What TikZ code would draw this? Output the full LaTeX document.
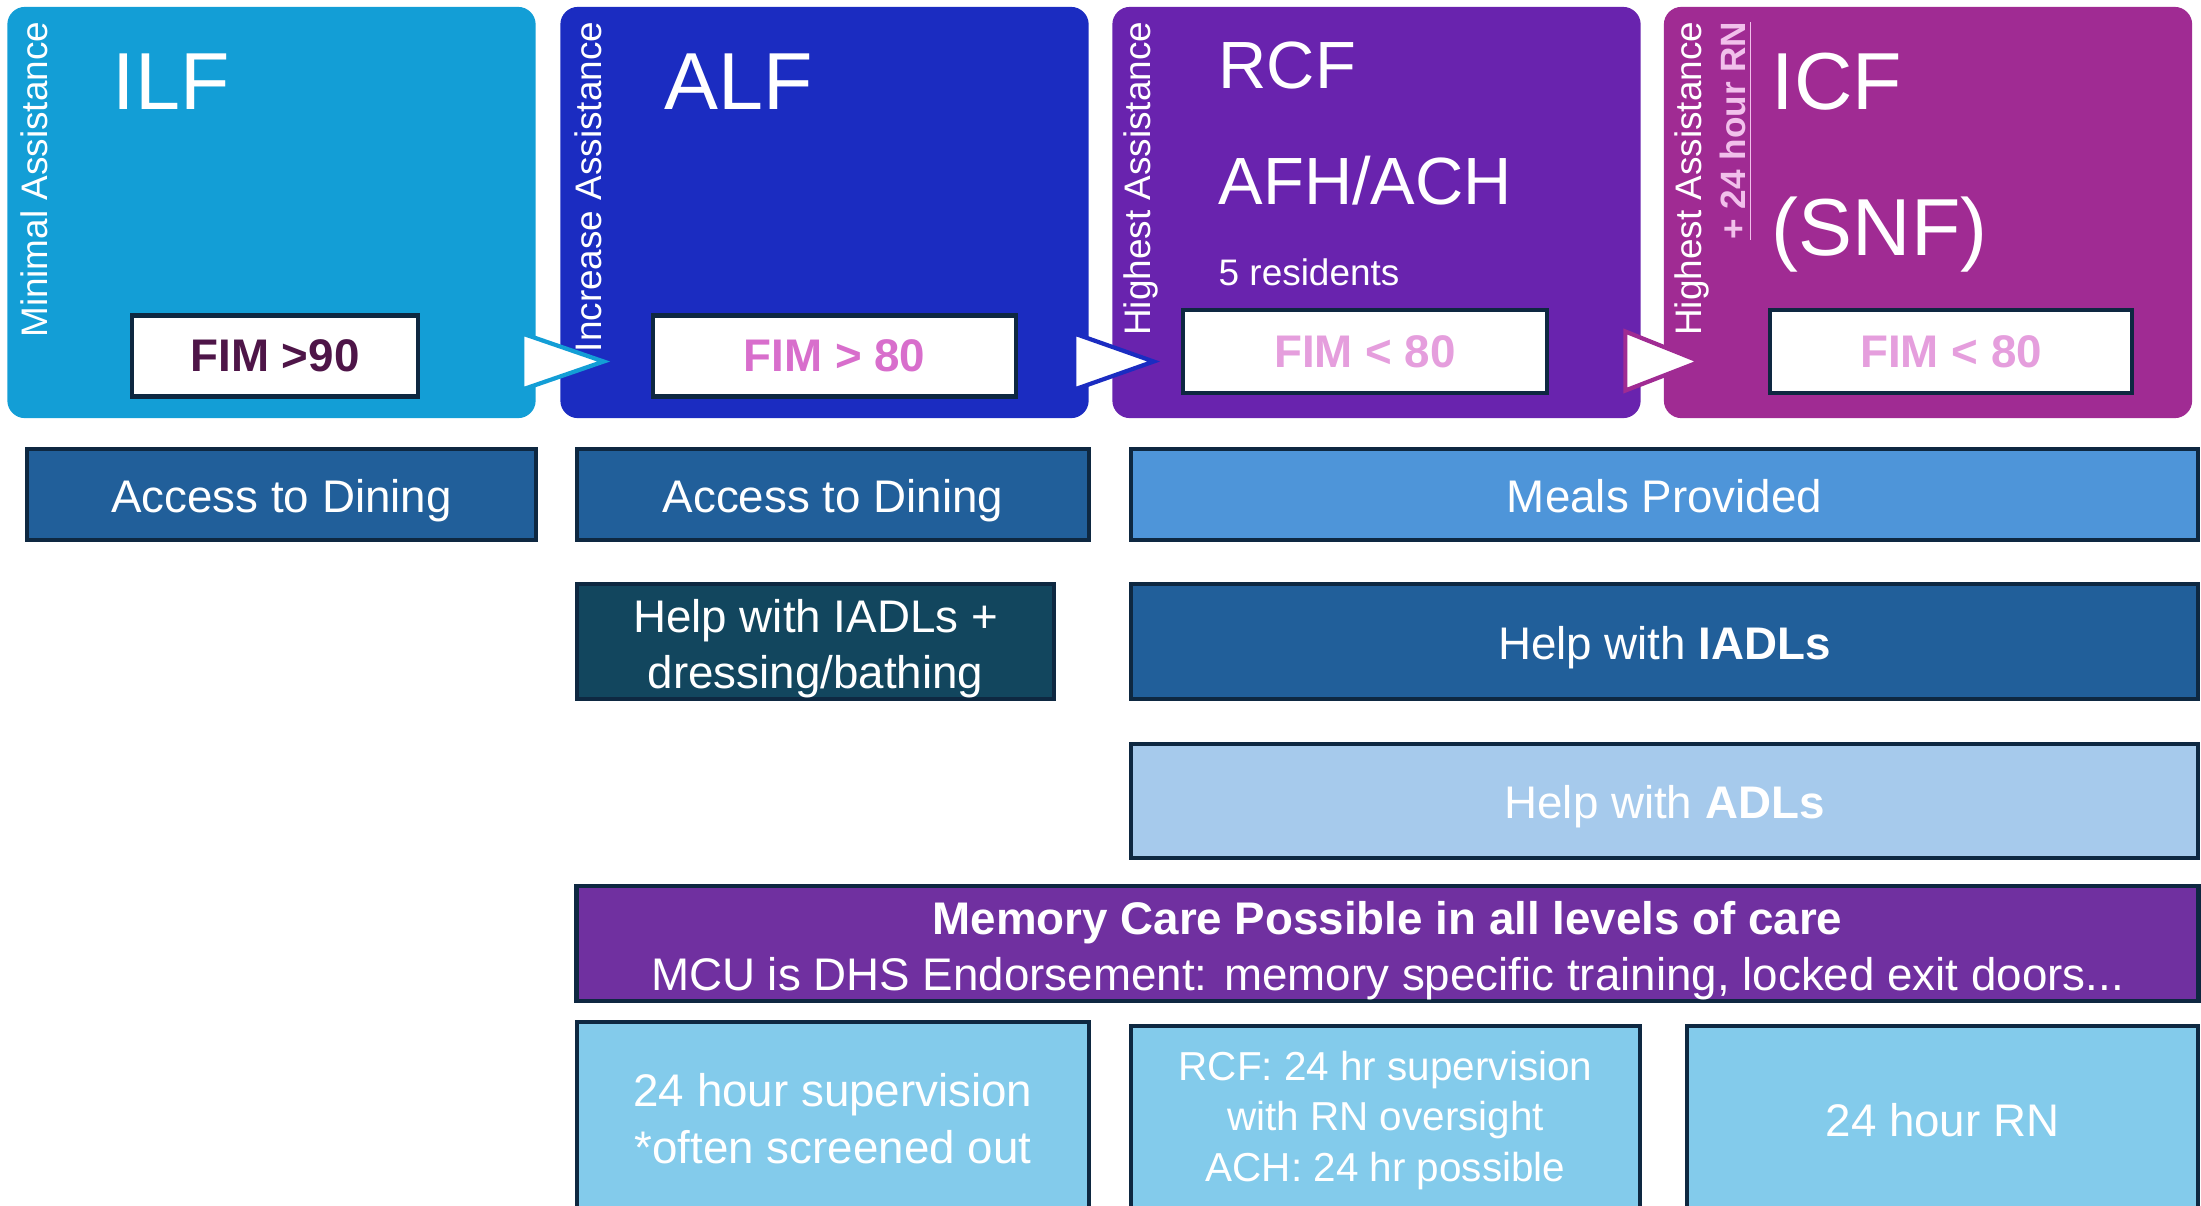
\documentclass[tikz,border=0pt]{standalone}
\usepackage{fontspec}
\setmainfont{Liberation Sans}
\usepackage{tikz}
\usetikzlibrary{calc}
\definecolor{ilfcol}{HTML}{139ED6}
\definecolor{alfcol}{HTML}{1B2CC1}
\definecolor{rcfcol}{HTML}{6923AE}
\definecolor{icfcol}{HTML}{A02B93}
\definecolor{edgenavy}{HTML}{0E2841}
\definecolor{fimdark}{HTML}{4E1548}
\definecolor{fimpink}{HTML}{D86ECC}
\definecolor{fimlight}{HTML}{E59EDD}
\definecolor{rnpink}{HTML}{F1C0EB}
\definecolor{diningcol}{HTML}{215F9A}
\definecolor{mealscol}{HTML}{4E95D9}
\definecolor{iadlteal}{HTML}{12465E}
\definecolor{adlcol}{HTML}{A6CAEC}
\definecolor{memorycol}{HTML}{7030A0}
\definecolor{skycol}{HTML}{83CBEB}
\newcommand{\topstrut}{\rule{0pt}{13.5pt}}

\begin{document}
\begin{tikzpicture}[x=0.01cm,y=-0.01cm,
	stage/.style={fill=#1,rounded corners=5pt,minimum width=5.28cm,minimum height=4.11cm,inner sep=0},
	sidelabel/.style={rotate=90,anchor=east,inner sep=0,text=white,font=\fontsize{10.5}{12}\selectfont},
	stagename/.style={anchor=base west,inner sep=0,text=white,font=\fontsize{23}{27}\selectfont},
	fim/.style={draw=edgenavy,line width=1.3pt,fill=white,minimum height=0.81cm,inner sep=0,font=\fontsize{13}{15}\selectfont\bfseries},
	chev/.style={draw=#1,line width=1.2pt,fill=white,line join=miter},
	rowbox/.style={fill=#1,draw=edgenavy,line width=1.2pt,text=white,align=center,inner sep=0,font=\fontsize{13}{16}\selectfont},
	stripbox/.style={rowbox=#1,execute at begin node={\rule[-3pt]{0pt}{16pt}}}]
	\useasboundingbox (0,0) rectangle (2201,1205);
	\clip (0,0) rectangle (2201,1205);
	
	\node[stage=ilfcol] (ilf) at (271.5,212.5) {};		%ILF
	\node[stage=alfcol] (alf) at (824.5,212.5) {};		%ALF
	\node[stage=rcfcol] (rcf) at (1376.5,212.5) {};	%RCF
	\node[stage=icfcol] (icf) at (1928,212.5) {};		%ICF
	
	\draw[chev=ilfcol] ($(ilf.east)+(-14,121)$) -- ($(alf.west)+(44,149)$) -- ($(ilf.east)+(-14,177)$) -- cycle;
	\draw[chev=alfcol] ($(alf.east)+(-15,121)$) -- ($(rcf.west)+(42,149)$) -- ($(alf.east)+(-15,177)$) -- cycle;
	\draw[chev=icfcol] ($(rcf.east)+(-16,119)$) -- ($(icf.west)+(37,149)$) -- ($(rcf.east)+(-16,178)$) -- cycle;
	
	\node[sidelabel] (minimal) at (34,21) {Minimal Assistance};
	\node[sidelabel] (increase) at (588,21) {Increase Assistance};
	\node[sidelabel] (highrcf) at (1141,21) {Highest Assistance};
	\node[sidelabel] (highicf) at (1692,21) {Highest Assistance};
	\node[sidelabel,text=rnpink,font=\fontsize{10}{12}\selectfont\bfseries] (rnicf) at (1736,21) {\underline{+ 24 hour RN}};
	
	\node[stagename] (ilfname) at (112,109) {ILF};
	\node[stagename] (alfname) at (664,109) {ALF};
	\node[stagename,font=\fontsize{19}{23}\selectfont] (rcfname) at (1218,88) {RCF};
	\node[stagename,font=\fontsize{19}{23}\selectfont] (afhname) at (1218,204) {AFH/ACH};
	\node[stagename,font=\fontsize{10.5}{12}\selectfont] (residents) at (1218,285) {5 residents};
	\node[stagename] (icfname) at (1771,109) {ICF};
	\node[stagename] (snfname) at (1771,255) {(SNF)};
	
	\node[fim,minimum width=2.86cm,text=fimdark] (fimilf) at (275,356) {FIM >90};
	\node[fim,minimum width=3.63cm,text=fimpink] (fimalf) at (834.5,356) {FIM > 80};
	\node[fim,minimum width=3.64cm,text=fimlight,minimum height=0.83cm] (fimrcf) at (1365,351.5) {FIM < 80};
	\node[fim,minimum width=3.62cm,text=fimlight,minimum height=0.83cm] (fimicf) at (1951,351.5) {FIM < 80};
	
	\node[stripbox=diningcol,minimum width=5.09cm,minimum height=0.91cm] (dineilf) at (281.5,494.5) {Access to Dining};
	\node[stripbox=diningcol,minimum width=5.12cm,minimum height=0.91cm] (dinealf) at (833,494.5) {Access to Dining};
	\node[stripbox=mealscol,minimum width=10.67cm,minimum height=0.91cm] (meals) at (1664.5,494.5) {Meals Provided};
	
	\node[rowbox=iadlteal,minimum width=4.77cm,minimum height=1.15cm] (iadlalf) at (815.5,641.5) {\topstrut Help with IADLs +\\dressing/bathing};
	\node[stripbox=diningcol,minimum width=10.67cm,minimum height=1.15cm] (iadl) at (1664.5,641.5) {Help with \textbf{IADLs}};
	\node[stripbox=adlcol,minimum width=10.67cm,minimum height=1.14cm] (adl) at (1664.5,801) {Help with \textbf{ADLs}};
	
	\node[rowbox=memorycol,minimum width=16.21cm,minimum height=1.15cm] (memory) at (1387.5,943.5) {\topstrut\textbf{Memory Care Possible in all levels of care}\\MCU is DHS Endorsement: memory specific training, locked exit doors...};
	
	\node[rowbox=skycol,minimum width=5.12cm,minimum height=1.93cm] (superalf) at (833,1118.5) {24 hour supervision\\*often screened out};
	\node[rowbox=skycol,minimum width=5.09cm,minimum height=1.89cm,font=\fontsize{11.5}{14.3}\selectfont] (superrcf) at (1385.5,1120.5) {RCF: 24 hr supervision\\with RN oversight\\ACH: 24 hr possible};
	\node[rowbox=skycol,minimum width=5.11cm,minimum height=1.89cm] (supericf) at (1942.5,1120.5) {24 hour RN};
\end{tikzpicture}
\end{document}
